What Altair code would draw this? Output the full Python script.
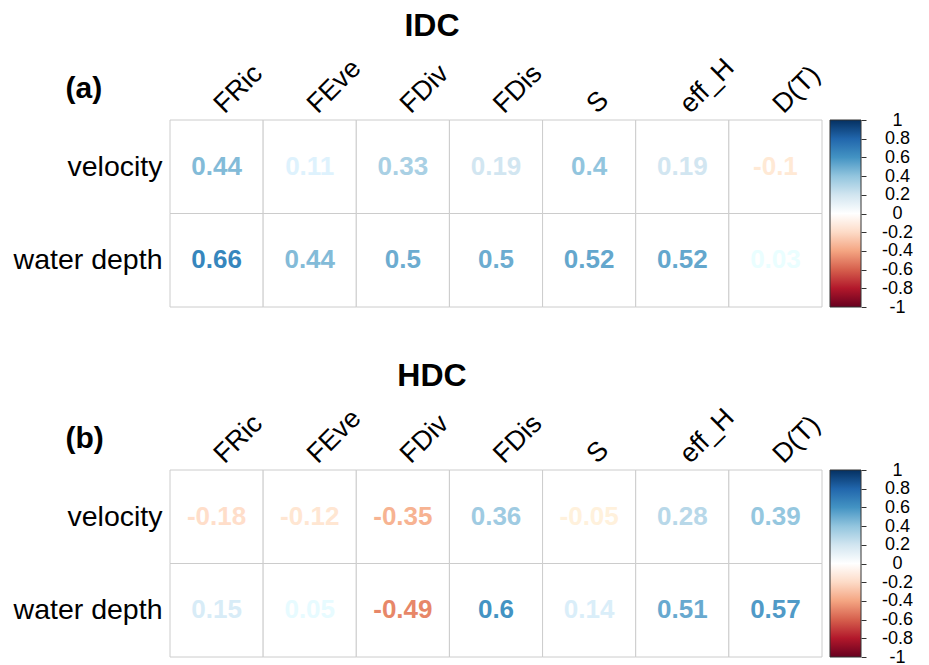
import altair as alt
import pandas as pd

columns = ["FRic", "FEve", "FDiv", "FDis", "S", "eff_H", "D(T)"]
rows = ["velocity", "water depth"]

idc_velocity = [0.44, 0.11, 0.33, 0.19, 0.4, 0.19, -0.1]
idc_depth = [0.66, 0.44, 0.5, 0.5, 0.52, 0.52, 0.03]
hdc_velocity = [-0.18, -0.12, -0.35, 0.36, -0.05, 0.28, 0.39]
hdc_depth = [0.15, 0.05, -0.49, 0.6, 0.14, 0.51, 0.57]

colorbar_ticks = [1, 0.8, 0.6, 0.4, 0.2, 0, -0.2, -0.4, -0.6, -0.8, -1]
color_stops = [-1, -0.8, -0.6, -0.4, -0.2, 0, 0.2, 0.4, 0.6, 0.8, 1]
palette = ["#67001F", "#B2182B", "#D6604D", "#F4A582", "#FDDBC7", "#FFFFFF",
           "#D1E5F0", "#92C5DE", "#4393C3", "#2166AC", "#053061"]
colorbar_range = [{"lo": -1, "hi": 1}]

FONT = "Liberation Sans"
W, H = 652, 187


def make_df(vel, dep):
    recs = []
    for r, vals in zip(rows, [vel, dep]):
        for c, v in zip(columns, vals):
            recs.append({"row": r, "col": c, "r": v, "label": str(v)})
    return pd.DataFrame(recs)


def heat(df, title, tag):
    base = alt.Chart(df)
    x = alt.X("col:N", sort=columns,
              scale=alt.Scale(paddingInner=0, paddingOuter=0),
              axis=alt.Axis(orient="top", title=None, labelAngle=-45,
                            labelAlign="left", labelBaseline="alphabetic",
                            labelFontSize=27, labelFont=FONT, labelColor="black",
                            labelPadding=6, labelOffset=8,
                            domain=False, ticks=False, grid=False))
    y = alt.Y("row:N", sort=rows,
              scale=alt.Scale(paddingInner=0, paddingOuter=0),
              axis=alt.Axis(title=tag, titleAngle=0, titleX=-105, titleY=-32,
                            titleAlign="left", titleBaseline="middle",
                            titleFontSize=30, titleFontWeight="bold", titleFont=FONT,
                            titleColor="black",
                            labelFontSize=28.5, labelFont=FONT, labelColor="black",
                            labelPadding=8, domain=False, ticks=False, grid=False))
    cells = base.mark_rect(fill="white", stroke="#cccccc", strokeWidth=1).encode(x=x, y=y)
    text = base.mark_text(font=FONT, fontSize=26, fontWeight="bold").encode(
        x=x, y=y, text="label:N",
        color=alt.Color("r:Q",
                        scale=alt.Scale(domain=color_stops, range=palette),
                        legend=None))
    return alt.layer(cells, text).properties(
        width=W, height=H,
        title=alt.TitleParams(title, fontSize=32, fontWeight="bold", font=FONT,
                              color="black", anchor="middle", dx=-64, offset=10))


def colorbar():
    grad = alt.LinearGradient(
        gradient="linear", x1=0, y1=1, x2=0, y2=0,
        stops=[alt.GradientStop(offset=(v + 1) / 2, color=c)
               for v, c in zip(color_stops, palette)])
    return alt.Chart(pd.DataFrame(colorbar_range)).mark_rect(
        fill=grad, stroke="#333333", strokeWidth=1).encode(
        y=alt.Y("lo:Q", scale=alt.Scale(domain=[-1, 1], nice=False, zero=False),
                axis=alt.Axis(orient="right", title=None, values=colorbar_ticks,
                              labelExpr="(datum.value < 0 ? '-' : '') + format(abs(datum.value), '.1~f')",
                              labelFontSize=18, labelFont=FONT, labelColor="black",
                              labelAlign="center", labelBaseline="middle",
                              labelFlush=False, labelOverlap=False,
                              labelPadding=31, tickSize=5, tickColor="#333333",
                              domain=False, grid=False)),
        y2="hi:Q",
    ).properties(width=31, height=H)


def panel(vel, dep, title, tag):
    return alt.hconcat(heat(make_df(vel, dep), title, tag), colorbar(), spacing=4)


chart = alt.vconcat(
    panel(idc_velocity, idc_depth, "IDC", "(a)"),
    panel(hdc_velocity, hdc_depth, "HDC", "(b)"),
    spacing=44,
).configure_view(stroke=None).properties(
    padding={"left": 5, "top": 2, "right": 0, "bottom": 0})

chart.save("out.html", embed_options={"renderer": "svg", "actions": False})
